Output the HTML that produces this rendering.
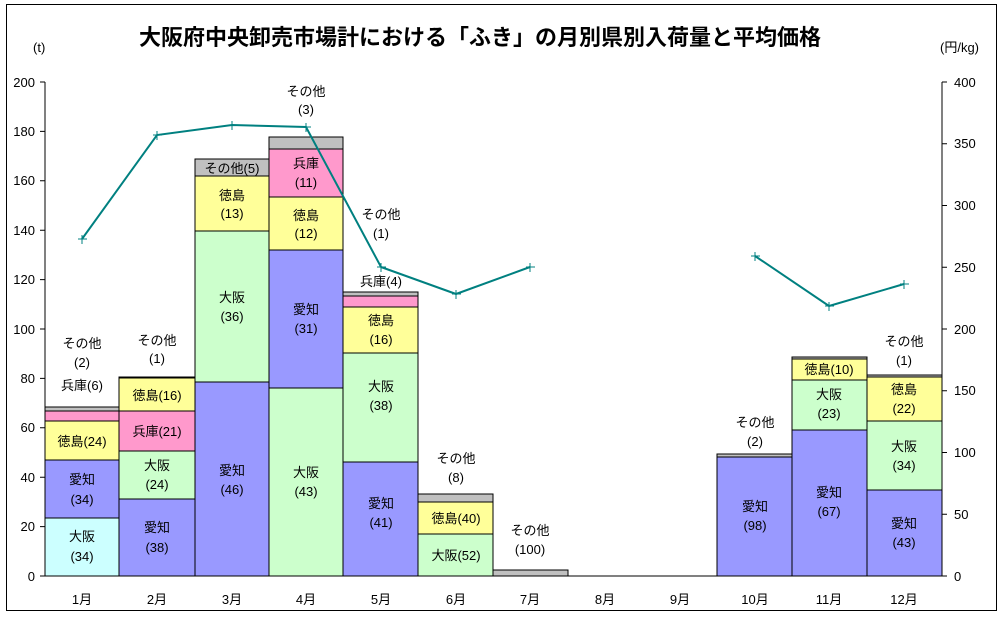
<!DOCTYPE html>
<html><head><meta charset="utf-8"><style>
body{margin:0;background:#fff}
svg text{font-family:"Liberation Sans","Noto Sans CJK JP",sans-serif;font-size:13px;fill:#000}
</style></head><body>
<svg width="1003" height="615" xmlns="http://www.w3.org/2000/svg">
<rect x="6.5" y="4.5" width="990" height="606" fill="#fff" stroke="#000"/>
<text x="480" y="45" text-anchor="middle" style="font-size:22px;font-weight:bold">大阪府中央卸売市場計における「ふき」の月別県別入荷量と平均価格</text>
<text x="33" y="52">(t)</text>
<text x="940" y="52">(円/kg)</text>
<g stroke="#000" stroke-width="1">
<rect x="45" y="518" width="74" height="58" fill="#CCFFFF"/>
<rect x="45" y="460" width="74" height="58" fill="#9999FF"/>
<rect x="45" y="421" width="74" height="39" fill="#FFFF99"/>
<rect x="45" y="411" width="74" height="10" fill="#FF99CC"/>
<rect x="45" y="407" width="74" height="4" fill="#C0C0C0"/>
<rect x="119" y="499" width="76" height="77" fill="#9999FF"/>
<rect x="119" y="451" width="76" height="48" fill="#CCFFCC"/>
<rect x="119" y="411" width="76" height="40" fill="#FF99CC"/>
<rect x="119" y="378" width="76" height="33" fill="#FFFF99"/>
<rect x="119" y="377" width="76" height="1" fill="#C0C0C0"/>
<rect x="195" y="382" width="74" height="194" fill="#9999FF"/>
<rect x="195" y="231" width="74" height="151" fill="#CCFFCC"/>
<rect x="195" y="176" width="74" height="55" fill="#FFFF99"/>
<rect x="195" y="159" width="74" height="17" fill="#C0C0C0"/>
<rect x="269" y="388" width="74" height="188" fill="#CCFFCC"/>
<rect x="269" y="250" width="74" height="138" fill="#9999FF"/>
<rect x="269" y="197" width="74" height="53" fill="#FFFF99"/>
<rect x="269" y="149" width="74" height="48" fill="#FF99CC"/>
<rect x="269" y="137" width="74" height="12" fill="#C0C0C0"/>
<rect x="343" y="462" width="75" height="114" fill="#9999FF"/>
<rect x="343" y="353" width="75" height="109" fill="#CCFFCC"/>
<rect x="343" y="307" width="75" height="46" fill="#FFFF99"/>
<rect x="343" y="296" width="75" height="11" fill="#FF99CC"/>
<rect x="343" y="292" width="75" height="4" fill="#C0C0C0"/>
<rect x="418" y="534" width="75" height="42" fill="#CCFFCC"/>
<rect x="418" y="502" width="75" height="32" fill="#FFFF99"/>
<rect x="418" y="494" width="75" height="8" fill="#C0C0C0"/>
<rect x="493" y="570" width="75" height="6" fill="#C0C0C0"/>
<rect x="717" y="457" width="75" height="119" fill="#9999FF"/>
<rect x="717" y="454" width="75" height="3" fill="#C0C0C0"/>
<rect x="792" y="430" width="75" height="146" fill="#9999FF"/>
<rect x="792" y="380" width="75" height="50" fill="#CCFFCC"/>
<rect x="792" y="359" width="75" height="21" fill="#FFFF99"/>
<rect x="792" y="357" width="75" height="2" fill="#C0C0C0"/>
<rect x="867" y="490" width="75" height="86" fill="#9999FF"/>
<rect x="867" y="421" width="75" height="69" fill="#CCFFCC"/>
<rect x="867" y="377" width="75" height="44" fill="#FFFF99"/>
<rect x="867" y="375" width="75" height="2" fill="#C0C0C0"/>
<line x1="45" y1="82" x2="45" y2="576"/>
<line x1="942" y1="82" x2="942" y2="576"/>
<line x1="45" y1="576" x2="942" y2="576"/>
<path d="M40 576H45M40 526.6H45M40 477.2H45M40 427.8H45M40 378.4H45M40 329H45M40 279.6H45M40 230.2H45M40 180.8H45M40 131.4H45M40 82H45"/>
<path d="M942 576H947M942 514.25H947M942 452.5H947M942 390.75H947M942 329H947M942 267.25H947M942 205.5H947M942 143.75H947M942 82H947"/>
</g>
<g text-anchor="end">
<text x="35" y="581">0</text><text x="35" y="531">20</text><text x="35" y="482">40</text><text x="35" y="432">60</text><text x="35" y="383">80</text><text x="35" y="334">100</text><text x="35" y="284">120</text><text x="35" y="235">140</text><text x="35" y="185">160</text><text x="35" y="136">180</text><text x="35" y="87">200</text>
</g>
<g text-anchor="start">
<text x="954" y="581">0</text><text x="954" y="519">50</text><text x="954" y="457">100</text><text x="954" y="395">150</text><text x="954" y="334">200</text><text x="954" y="272">250</text><text x="954" y="210">300</text><text x="954" y="148">350</text><text x="954" y="87">400</text>
</g>
<g text-anchor="middle">
<text x="82" y="604">1月</text><text x="157" y="604">2月</text><text x="232" y="604">3月</text><text x="306" y="604">4月</text><text x="381" y="604">5月</text><text x="456" y="604">6月</text><text x="530" y="604">7月</text><text x="605" y="604">8月</text><text x="680" y="604">9月</text><text x="755" y="604">10月</text><text x="829" y="604">11月</text><text x="904" y="604">12月</text>
<text x="82" y="541">大阪</text><text x="82" y="561">(34)</text>
<text x="82" y="484">愛知</text><text x="82" y="504">(34)</text>
<text x="82" y="446">徳島(24)</text>
<text x="82" y="390">兵庫(6)</text>
<text x="82" y="348">その他</text><text x="82" y="367">(2)</text>
<text x="157" y="532">愛知</text><text x="157" y="552">(38)</text>
<text x="157" y="470">大阪</text><text x="157" y="489">(24)</text>
<text x="157" y="436">兵庫(21)</text>
<text x="157" y="400">徳島(16)</text>
<text x="157" y="345">その他</text><text x="157" y="363">(1)</text>
<text x="232" y="475">愛知</text><text x="232" y="494">(46)</text>
<text x="232" y="302">大阪</text><text x="232" y="321">(36)</text>
<text x="232" y="200">徳島</text><text x="232" y="218">(13)</text>
<text x="232" y="173">その他(5)</text>
<text x="306" y="477">大阪</text><text x="306" y="496">(43)</text>
<text x="306" y="314">愛知</text><text x="306" y="333">(31)</text>
<text x="306" y="220">徳島</text><text x="306" y="238">(12)</text>
<text x="306" y="168">兵庫</text><text x="306" y="187">(11)</text>
<text x="306" y="96">その他</text><text x="306" y="114">(3)</text>
<text x="381" y="508">愛知</text><text x="381" y="527">(41)</text>
<text x="381" y="391">大阪</text><text x="381" y="410">(38)</text>
<text x="381" y="325">徳島</text><text x="381" y="344">(16)</text>
<text x="381" y="286">兵庫(4)</text>
<text x="381" y="219">その他</text><text x="381" y="238">(1)</text>
<text x="456" y="560">大阪(52)</text>
<text x="456" y="523">徳島(40)</text>
<text x="456" y="463">その他</text><text x="456" y="482">(8)</text>
<text x="530" y="535">その他</text><text x="530" y="554">(100)</text>
<text x="755" y="511">愛知</text><text x="755" y="530">(98)</text>
<text x="755" y="427">その他</text><text x="755" y="446">(2)</text>
<text x="829" y="497">愛知</text><text x="829" y="516">(67)</text>
<text x="829" y="399">大阪</text><text x="829" y="418">(23)</text>
<text x="829" y="374">徳島(10)</text>
<text x="904" y="528">愛知</text><text x="904" y="547">(43)</text>
<text x="904" y="451">大阪</text><text x="904" y="470">(34)</text>
<text x="904" y="394">徳島</text><text x="904" y="413">(22)</text>
<text x="904" y="346">その他</text><text x="904" y="365">(1)</text>
</g>
<g stroke="#008080" stroke-width="2" fill="none">
<polyline points="82,239 157,135 232,125 306,127 381,267 456,294 530,267"/>
<polyline points="755,256 829,306 904,284"/>
</g>
<g stroke="#008080" stroke-width="1">
<path d="M78 239h9M82 235v9M153 135h9M157 131v9M228 125h9M232 121v9M302 127h9M306 123v9M377 267h9M381 263v9M452 294h9M456 290v9M526 267h9M530 263v9M751 256h9M755 252v9M825 306h9M829 302v9M900 284h9M904 280v9"/>
</g>
</svg>
</body></html>
